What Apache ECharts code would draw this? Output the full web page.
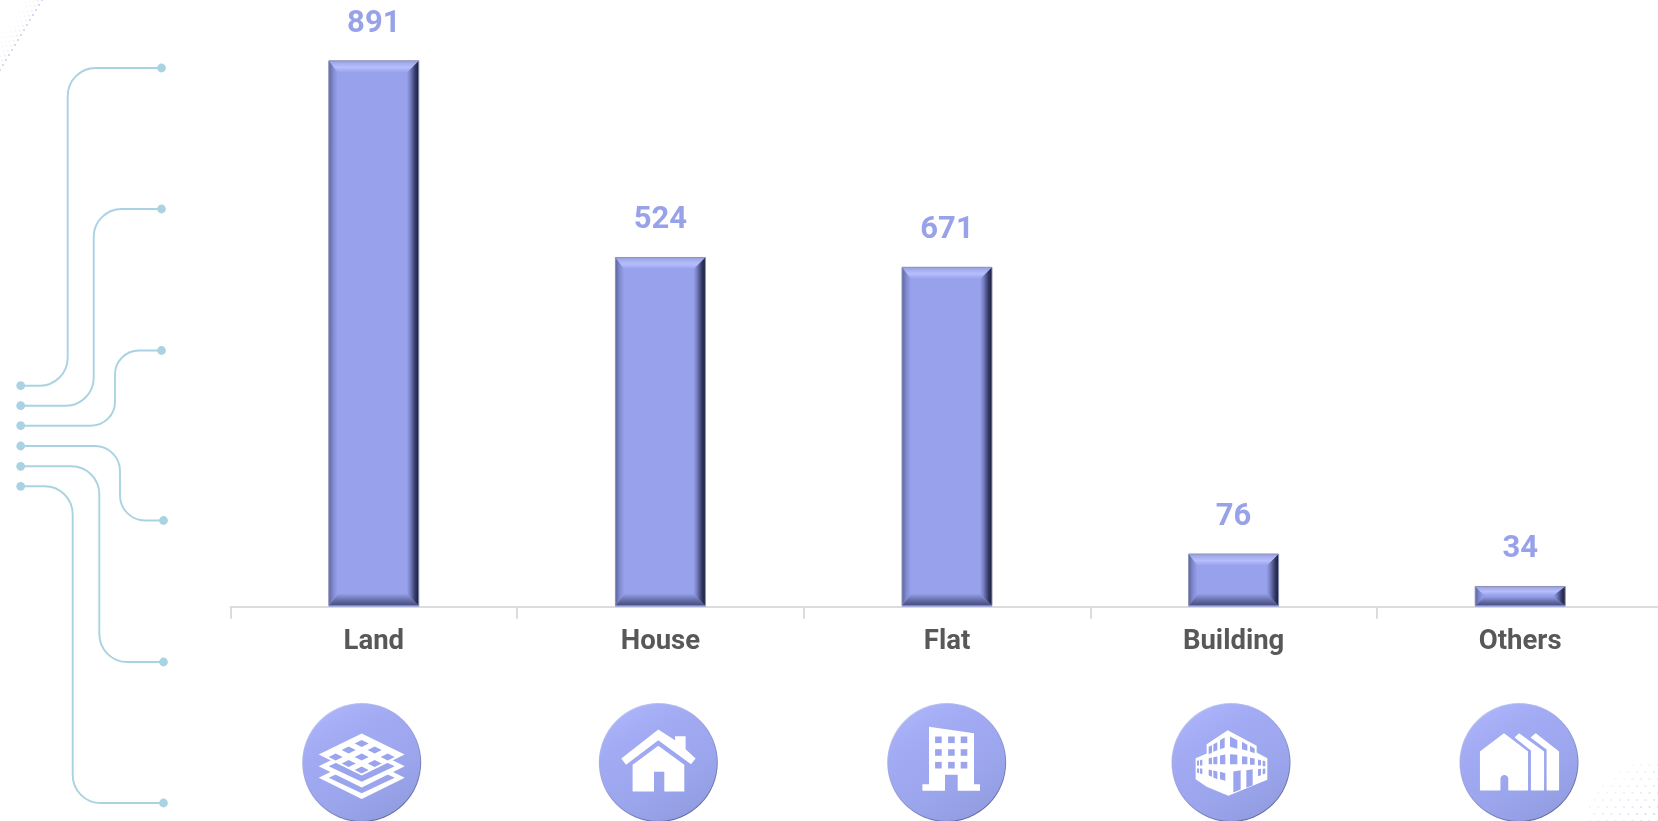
<!DOCTYPE html>
<html>
<head>
<meta charset="utf-8">
<style>html,body{margin:0;padding:0;background:#fff}#c{width:1658px;height:821px}</style>
<script src="https://cdn.jsdelivr.net/npm/echarts@6/dist/echarts.min.js"></script>
</head>
<body>
<div id="c"></div>
<script>
// Categories along the axis
const categories = ['Land', 'House', 'Flat', 'Building', 'Others'];
// Numbers printed above the bars in the reference
const printedValues = [891, 524, 671, 76, 34];
// Bar heights as drawn in the reference (they do not follow the printed numbers: House is taller than Flat)
const drawnHeights = [891, 570, 554, 86, 33];

const BG = '#9aa5ee';
const BAR_WIDTH = 90;
const chart = echarts.init(document.getElementById('c'), null, { renderer: 'canvas' });
const LG = (x0, y0, x1, y1, stops) => new echarts.graphic.LinearGradient(x0, y0, x1, y1,
  stops.map(s => ({ offset: s[0], color: s[1] })));

function bevel(params, api) {
  const val = api.value(1);
  const top = api.coord([api.value(0), val]);
  const base = api.coord([api.value(0), 0]);
  const w = BAR_WIDTH;
  const x0 = top[0] - w / 2, x1 = top[0] + w / 2, y0 = top[1], y1 = base[1] - 1;
  const h = y1 - y0;
  const dt = Math.min(12, h * 0.48), db = Math.min(12, h * 0.48), dl = 9, dr = 12;
  const poly = (pts, fill) => ({ type: 'polygon', shape: { points: pts }, style: { fill } });
  return {
    type: 'group',
    children: [
      poly([[x0, y0], [x1, y0], [x1 - dr, y0 + dt], [x0 + dl, y0 + dt]],
        LG(0, 0, 0, 1, [[0, '#979fdd'], [0.3, '#a9b2f4'], [0.55, '#b6befc'], [1, '#959fea']])),
      poly([[x0, y1], [x1, y1], [x1 - dr, y1 - db], [x0 + dl, y1 - db]],
        LG(0, 1, 0, 0, [[0, '#454b78'], [0.45, '#666ea8'], [1, '#959fe8']])),
      poly([[x0, y0], [x0 + dl, y0 + dt], [x0 + dl, y1 - db], [x0, y1]],
        LG(0, 0, 1, 0, [[0, '#5d659e'], [0.5, '#828bd2'], [1, '#98a2ec']])),
      poly([[x1, y0], [x1 - dr, y0 + dt], [x1 - dr, y1 - db], [x1, y1]],
        LG(1, 0, 0, 0, [[0, '#1a1d38'], [0.3, '#343a66'], [0.7, '#747dc0'], [1, '#98a2ec']])),
      { type: 'rect', shape: { x: x0, y: y0, width: w, height: h },
        style: { fill: 'none', stroke: '#8f93b4', lineWidth: 1 } }
    ]
  };
}

// ---- decoration: connector lines at the left
const LINE = '#a9d3e3';
const connectors = [
  'M20.7 385.7H40A28 28 0 0 0 67.7 358V96A28 28 0 0 1 95.7 68H161.5',
  'M20.7 405.7H66A28 28 0 0 0 93.7 378V237A28 28 0 0 1 121.7 209H161.5',
  'M20.7 425.7H91A24 24 0 0 0 115 401.7V374.5A24 24 0 0 1 139 350.5H161.5',
  'M20.7 446H95A25 25 0 0 1 120 471V495.5A25 25 0 0 0 145 520.5H163.5',
  'M20.7 466.3H71A28 28 0 0 1 99.3 494.3V634A28 28 0 0 0 127.3 662H163.5',
  'M20.7 486.3H44.7A28 28 0 0 1 72.7 514.3V775A28 28 0 0 0 100.7 803H163.5'
];
const connectorDots = [[20.7,385.7],[20.7,405.7],[20.7,425.7],[20.7,446],[20.7,466.3],[20.7,486.3],
  [161.5,68],[161.5,209],[161.5,350.5],[163.5,520.5],[163.5,662],[163.5,803]];
const graphics = [];
connectors.forEach(d => graphics.push({
  type: 'path', shape: { pathData: d },
  style: { fill: 'none', stroke: LINE, lineWidth: 1.9 }
}));
connectorDots.forEach(p => graphics.push({
  type: 'circle', shape: { cx: p[0], cy: p[1], r: 4.4 }, style: { fill: LINE }
}));

// ---- decoration: faint halftone corners
for (let a = 0; a < 16; a++) {
  for (let b = 0; b < 6; b++) {
    const x = 42 - a * 3.0 - b * 4.2, y = 0 + a * 5.0 + b * 0.6;
    if (x < 0) continue;
    graphics.push({ type: 'circle', shape: { cx: x, cy: y, r: b === 0 ? 1.1 : 0.9 },
      style: { fill: '#8f9ad0', opacity: b === 0 ? 0.45 : 0.2 / b } });
  }
}
for (let r = 0; r < 9; r++) {
  for (let c = 0; c < 12; c++) {
    const x = 1658 - c * 8.5 - (r % 2) * 4, y = 821 - r * 7;
    const d = c + r;
    if (d > 11 || x < 1590) continue;
    graphics.push({ type: 'circle', shape: { cx: x, cy: y, r: 1.1 },
      style: { fill: '#9aa4d8', opacity: Math.max(0.1, 0.42 - d * 0.03) } });
  }
}

// ---- decoration: icons
const W = '#ffffff';
const ICON_Y = 762.5;
function badge(cx, cy, children) {
  graphics.push({
    type: 'group', x: cx, y: cy,
    children: [
      { type: 'circle', shape: { cx: 0, cy: 0, r: 59.5 },
        style: { fill: LG(0.2, 0, 0.8, 1, [[0, '#c7ccf6'], [0.55, '#8f98d8'], [1, '#5b6196']]) } },
      { type: 'circle', shape: { cx: 0, cy: 0, r: 58.5 },
        style: { fill: LG(0.15, 0.03, 0.7, 1, [[0, '#adb6fa'], [0.3, '#a1aaf2'], [0.7, '#9ba5ec'], [1, '#929ce0']]) } }
    ].concat(children)
  });
}
const poly = (pts, fill) => ({ type: 'polygon', shape: { points: pts }, style: { fill: fill || W } });
const diamond = (cy, hw, hh, fill) => poly([[-hw, cy], [0, cy - hh], [hw, cy], [0, cy + hh]], fill);

// Land: stacked layers
badge(361.7, ICON_Y, [
  diamond(15.3, 43, 21.2), diamond(15.3, 33, 15.5, BG),
  diamond(3.7, 43, 21.2), diamond(3.7, 33, 15.5, BG),
  diamond(-8, 43, 21)
].concat([
  [0, -19], [-13, -12.5], [13, -12.5], [-26, -5.5], [0, -5.5], [26, -5.5], [-13, 1], [13, 1], [0, 7.5]
].map(g => poly([[g[0] - 7, g[1]], [g[0], g[1] - 3.6], [g[0] + 7, g[1]], [g[0], g[1] + 3.6]], BG))));

// House
badge(658.3, ICON_Y, [
  poly([[0, -33], [-37, -4], [-32.3, 2.3], [0, -22.3], [32.7, 1.7], [37.3, -4], [27.3, -13.3], [27.3, -26.3], [16.7, -26.3], [16.7, -22.3]]),
  poly([[0, -16.7], [26, 2.3], [26, 29], [6, 29], [6, 9.3], [-4.3, 9.3], [-4.3, 29], [-25.7, 29], [-25.7, 2.3]])
]);

// Flat
(function () {
  const ch = [poly([[-17.7, -35.7], [27.3, -29.3], [27.3, 21.7], [33.3, 21.7], [33.3, 28.3], [11, 28.3], [11, 12.3], [-1.7, 12.3], [-1.7, 28.3], [-24.3, 28.3], [-24.3, 21.7], [-17.7, 21.7]])];
  [-8.3, 4.7, 17.3].forEach(x => [-22.7, -10, 2.7].forEach(y => {
    ch.push({ type: 'rect', shape: { x: x - 3.3, y: y - 3.3, width: 6.6, height: 6.6 }, style: { fill: BG } });
  }));
  badge(946.7, ICON_Y, ch);
})();

// Building
(function () {
  const f = p => [(p[0] - 243) / 3, (p[1] - 245) / 3];
  const q = a => poly(a.map(f), BG);
  badge(1231, ICON_Y, [
    poly([[233,148],[320,195],[320,215],[352,232],[352,297],[235,345],[170,318],[137,295],[137,232],[170,218],[170,190]].map(f)),
    q([[176,198],[186,193],[186,216],[176,220]]), q([[190,190],[202,184],[202,208],[190,213]]),
    q([[210,178],[224,170],[224,201],[210,205]]), q([[240,167],[262,178],[262,204],[240,198]]),
    q([[276,183],[292,192],[292,210],[276,205]]), q([[300,195],[314,203],[314,217],[300,212]]),
    q([[176,232],[186,230],[186,250],[176,250]]), q([[190,229],[202,227],[202,250],[190,250]]),
    q([[210,224],[226,221],[226,250],[210,250]]), q([[240,220],[262,222],[262,250],[240,250]]),
    q([[276,226],[292,228],[292,250],[276,250]]), q([[300,231],[314,233],[314,252],[300,252]]),
    q([[324,236],[333,238],[333,254],[324,254]]), q([[338,239],[346,241],[346,256],[338,256]]),
    q([[176,266],[186,268],[186,288],[176,284]]), q([[190,269],[202,272],[202,295],[190,290]]),
    q([[210,273],[226,277],[226,300],[210,295]]), q([[250,272],[272,268],[272,326],[250,335]]),
    q([[289,268],[308,265],[308,313],[289,321]]), q([[324,265],[333,264],[333,283],[324,286]]),
    q([[338,264],[346,263],[346,278],[338,281]]),
    q([[141,240],[147,238],[147,254],[141,254]]), q([[150,238],[157,236],[157,254],[150,254]]),
    q([[141,263],[147,263],[147,277],[141,275]]), q([[150,263],[157,263],[157,280],[150,278]])
  ]);
})();

// Others
(function () {
  const f = p => [(p[0] - 1105) / 3, (p[1] - 245) / 3];
  const fx = x => ((x - 1105) / 3).toFixed(1), fy = y => ((y - 245) / 3).toFixed(1);
  const rounded = { fill: W, stroke: W, lineWidth: 1.5, lineJoin: 'round' };
  badge(1519, ICON_Y, [
    { type: 'path', shape: { pathData:
      'M' + fx(1060) + ' ' + fy(160) + 'L' + fx(1130) + ' ' + fy(213) + 'V' + fy(327) + 'H' + fx(1075) +
      'V' + fy(292) + 'A4.7 4.7 0 0 0 ' + fx(1047) + ' ' + fy(292) + 'V' + fy(327) + 'H' + fx(990) + 'V' + fy(213) + 'Z' },
      style: rounded },
    { type: 'polygon', shape: { points: [[1095,170],[1105,160],[1178,213],[1178,327],[1143,327],[1143,208]].map(f) }, style: rounded },
    { type: 'polygon', shape: { points: [[1143,170],[1155,160],[1223,213],[1223,327],[1190,327],[1190,205]].map(f) }, style: rounded }
  ]);
})();

chart.setOption({
  animation: false,
  backgroundColor: '#ffffff',
  textStyle: { fontFamily: 'Roboto' },
  grid: { left: 230.5, right: -5.5, top: 60.8, bottom: 214.3, containLabel: false, outerBoundsMode: 'none' },
  xAxis: {
    type: 'category',
    data: categories,
    boundaryGap: true,
    axisLine: { lineStyle: { color: '#dcdcdc', width: 2 } },
    axisTick: { show: true, length: 12, lineStyle: { color: '#dcdcdc', width: 2 } },
    axisLabel: { color: '#585858', fontFamily: 'Roboto', fontWeight: 700, fontSize: 27.5, margin: 21, interval: 0 }
  },
  yAxis: { type: 'value', min: 0, max: 891, show: false, splitLine: { show: false } },
  series: [
    {
      type: 'custom',
      coordinateSystem: 'none',
      silent: true,
      clip: false,
      z: 1,
      data: [[0]],
      renderItem: () => ({ type: 'group', children: graphics })
    },
    {
      type: 'bar',
      data: drawnHeights,
      barWidth: BAR_WIDTH,
      itemStyle: { color: '#98a2ec' },
      label: {
        show: true, position: 'top', distance: 21.5,
        formatter: p => String(printedValues[p.dataIndex]),
        color: '#98a2e9', fontFamily: 'Roboto', fontWeight: 700, fontSize: 31
      }
    },
    {
      type: 'custom',
      silent: true,
      z: 3,
      encode: { x: 0, y: 1 },
      data: drawnHeights.map((v, i) => [i, v]),
      renderItem: bevel
    }
  ]
});
</script>
</body>
</html>
